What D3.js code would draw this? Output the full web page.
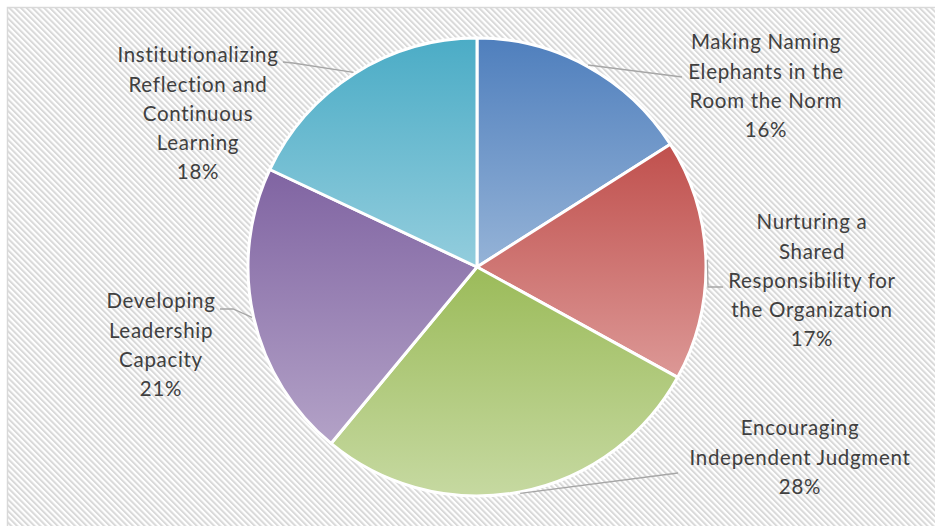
<!DOCTYPE html>
<html>
<head>
<meta charset="utf-8">
<script src="https://cdn.jsdelivr.net/npm/d3@7/dist/d3.min.js"></script>
<style>
  html, body { margin: 0; padding: 0; background: #fff; }
  svg { display: block; }
</style>
</head>
<body>
<div id="chart"></div>
<script>
// slice data, clockwise from 12 o'clock
const categories = [
  'Making Naming Elephants in the Room the Norm',
  'Nurturing a Shared Responsibility for the Organization',
  'Encouraging Independent Judgment',
  'Developing Leadership Capacity',
  'Institutionalizing Reflection and Continuous Learning'
];
const shares = [16, 17, 28, 21, 18];
const labelLines = [
  ['Making Naming', 'Elephants in the', 'Room the Norm'],
  ['Nurturing a', 'Shared', 'Responsibility for', 'the Organization'],
  ['Encouraging', 'Independent Judgment'],
  ['Developing', 'Leadership', 'Capacity'],
  ['Institutionalizing', 'Reflection and', 'Continuous', 'Learning']
];
const percentLabels = ['16%', '17%', '28%', '21%', '18%'];

// colours: top / bottom of each slice gradient
const topColors = ['#4f7fbd', '#c0504d', '#9bbb59', '#8064a2', '#4bacc6'];
const bottomColors = ['#95b3d7', '#dc9896', '#c6d9a1', '#b3a2c7', '#93cddd'];

// label placement: block centre x, centre y of first line, leader bend points
const labelPos = [
  { x: 766, y: 42, leader: [[682, 77]] },
  { x: 812, y: 222, leader: [[708, 287], [723, 287]] },
  { x: 800, y: 428, leader: [[678, 473]] },
  { x: 161, y: 301, leader: [[233, 309], [220, 309]] },
  { x: 198, y: 55, leader: [[293, 63], [283, 62]] }
];

const W = 935, H = 526;
const cx = 477, cy = 267, r = 229;
const lineH = 29.2;

const svg = d3.select('#chart').append('svg').attr('width', W).attr('height', H);
const defs = svg.append('defs');

const hatch = defs.append('pattern').attr('id', 'hatch')
  .attr('patternUnits', 'userSpaceOnUse').attr('width', 4.1).attr('height', 4.1)
  .attr('patternTransform', 'rotate(-45)');
hatch.append('rect').attr('width', 4.1).attr('height', 4.1).attr('fill', '#fff');
hatch.append('rect').attr('width', 2).attr('height', 4.1).attr('fill', '#d9d9d9');

svg.append('rect').attr('x', 7.5).attr('y', 7.5).attr('width', W).attr('height', H)
  .attr('fill', 'url(#hatch)').attr('stroke', '#d9d9d9').attr('stroke-width', 1.5);

shares.forEach((d, i) => {
  const g = defs.append('linearGradient').attr('id', 'grad' + i)
    .attr('x1', 0).attr('y1', 0).attr('x2', 0).attr('y2', 1);
  g.append('stop').attr('offset', '0%').attr('stop-color', topColors[i]);
  g.append('stop').attr('offset', '100%').attr('stop-color', bottomColors[i]);
});

const pie = d3.pie().value(d => d).sort(null);
const arcs = pie(shares);
const arc = d3.arc().innerRadius(0).outerRadius(r);

const g = svg.append('g').attr('transform', `translate(${cx},${cy})`);
g.selectAll('path').data(arcs).join('path')
  .attr('d', arc)
  .attr('fill', (d, i) => `url(#grad${i})`)
  .attr('stroke', '#fff').attr('stroke-width', 3).attr('stroke-linejoin', 'round');

// leader lines from mid-angle on the rim
const line = d3.line();
arcs.forEach((d, i) => {
  const a = (d.startAngle + d.endAngle) / 2;
  const start = [cx + Math.sin(a) * (r + 1.5), cy - Math.cos(a) * (r + 1.5)];
  svg.append('path')
    .attr('d', line([start, ...labelPos[i].leader]))
    .attr('fill', 'none').attr('stroke', '#a6a6a6').attr('stroke-width', 1.3);
});

// labels
arcs.forEach((d, i) => {
  const lines = [...labelLines[i], percentLabels[i]];
  const t = svg.append('text')
    .attr('text-anchor', 'middle')
    .attr('font-family', 'Lato, "Open Sans", sans-serif')
    .attr('font-size', 20.5)
    .attr('letter-spacing', 0.7)
    .attr('fill', '#404040');
  lines.forEach((s, k) => {
    t.append('tspan').attr('x', labelPos[i].x).attr('y', labelPos[i].y + k * lineH)
      .attr('dy', '0.36em').text(s);
  });
});
</script>
</body>
</html>
